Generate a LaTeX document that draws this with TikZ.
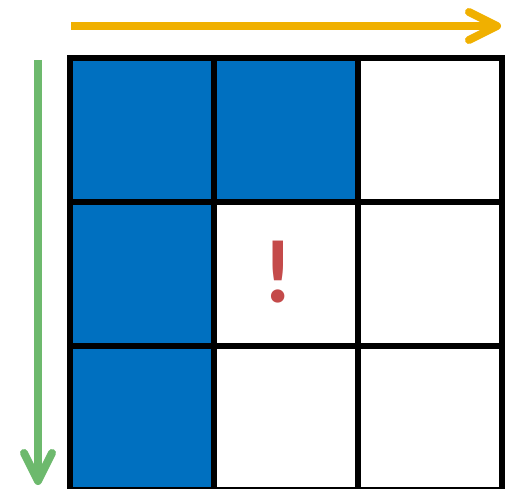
\documentclass[tikz,border=0pt]{standalone}
\usepackage{fontspec}
\setmainfont{Carlito}
\usepackage{xcolor}
\definecolor{gridblue}{HTML}{0070C0}
\definecolor{rowarrow}{HTML}{F0B000}
\definecolor{colarrow}{HTML}{6DB96D}
\definecolor{warnred}{HTML}{C44A4A}
\usetikzlibrary{arrows.meta,positioning}
\tikzset{
  cell/.style={draw,line width=6pt,minimum size=144pt,inner sep=0pt,outer sep=0pt},
  filled/.style={cell,fill=gridblue},
  empty/.style={cell,fill=white},
  sweep/.style={line width=8pt,-{Straight Barb[length=28pt,width=28pt,round]}},
  warnmark/.style={font=\fontsize{90}{90}\selectfont\bfseries,text=warnred,inner sep=0pt},
}

\begin{document}
\begin{tikzpicture}[x=1pt,y=-1pt]
\useasboundingbox (0,0) rectangle (512,489);
% grid of cells, blue = already done
\foreach \c/\r/\k in {0/0/filled,1/0/filled,2/0/empty,
                      0/1/filled,1/1/empty,2/1/empty,
                      0/2/filled,1/2/empty,2/2/empty}
  \node[\k] (c-\c-\r) at (142+144*\c,130+144*\r) {};
\node[warnmark,anchor=base] (warn) at (278,303) {!};
% direction arrows
\coordinate (rowstart) at (71,26);
\coordinate (rowend) at (501,26);
\coordinate (colstart) at (38,60);
\coordinate (colend) at (38,485);
\draw[sweep,draw=rowarrow] (rowstart) -- (rowend);
\draw[sweep,draw=colarrow] (colstart) -- (colend);
\end{tikzpicture}
\end{document}
